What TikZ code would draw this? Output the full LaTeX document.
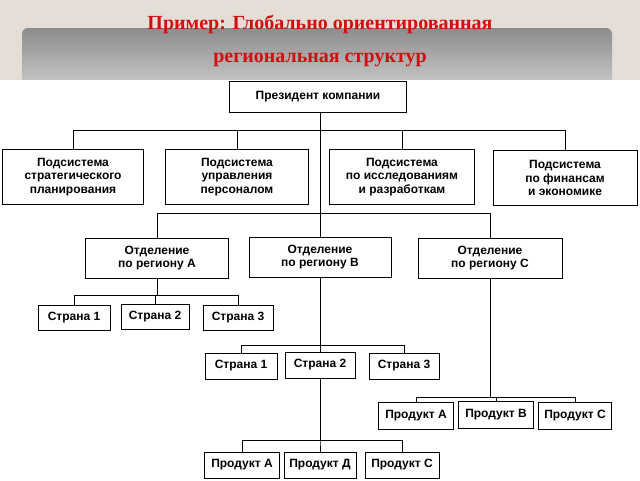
\documentclass[tikz,border=0pt]{standalone}
\usepackage{fontspec}
\setmainfont{Liberation Serif}
\setsansfont{Liberation Sans}
\usetikzlibrary{positioning}
\definecolor{titlered}{RGB}{208,16,16}
\definecolor{bgbeige}{RGB}{228,222,214}
\tikzset{
  orgbox/.style={draw, thick, fill=white, align=center, font=\sffamily\bfseries\fontsize{12}{13.5}\selectfont, inner sep=1pt},
  link/.style={draw, semithick},
}
\begin{document}
\begin{tikzpicture}[x=1pt,y=-1pt]
  \useasboundingbox (0,0) rectangle (640,480);
  % background and banner
  \fill[bgbeige] (0,0) rectangle (640,480);
  \shade[top color=gray!90, bottom color=gray!35, rounded corners=6pt] (22,28) rectangle (612,95);
  \fill[white] (0,80) rectangle (640,480);
  \node[font=\bfseries\fontsize{20}{33}\selectfont, text=titlered, align=center] (title) at (320,41)
    {Пример: Глобально ориентированная\\региональная структур};
  % top level
  \node[orgbox, minimum width=177, minimum height=31] (pres) at (318,97) {Президент компании};
  \node[orgbox, minimum width=141, minimum height=55] (s1) at (73,177) {Подсистема\\стратегического\\планирования};
  \node[orgbox, minimum width=143, minimum height=55] (s2) at (237,177) {Подсистема\\управления\\персоналом};
  \node[orgbox, minimum width=145, minimum height=55] (s3) at (402,177) {Подсистема\\по исследованиям\\и разработкам};
  \node[orgbox, minimum width=144, minimum height=55] (s4) at (565,178) {Подсистема\\по финансам\\и экономике};
  % regions
  \node[orgbox, minimum width=143, minimum height=40] (ra) at (157,258) {Отделение\\по региону А};
  \node[orgbox, minimum width=142, minimum height=40] (rb) at (320,257) {Отделение\\по региону В};
  \node[orgbox, minimum width=144, minimum height=40] (rc) at (490,258) {Отделение\\по региону С};
  % countries
  \node[orgbox, minimum width=72, minimum height=25] (a1) at (74,318) {Страна 1};
  \node[orgbox, minimum width=68, minimum height=25] (a2) at (155,317) {Страна 2};
  \node[orgbox, minimum width=70, minimum height=25] (a3) at (238,318) {Страна 3};
  \node[orgbox, minimum width=72, minimum height=26] (b1) at (241,366) {Страна 1};
  \node[orgbox, minimum width=70, minimum height=26] (b2) at (320,365) {Страна 2};
  \node[orgbox, minimum width=70, minimum height=26] (b3) at (404,366) {Страна 3};
  % products
  \node[orgbox, minimum width=75, minimum height=27] (c1) at (416,416) {Продукт А};
  \node[orgbox, minimum width=75, minimum height=27] (c2) at (496,415) {Продукт В};
  \node[orgbox, minimum width=73, minimum height=27] (c3) at (575,416) {Продукт С};
  \node[orgbox, minimum width=75, minimum height=26] (d1) at (242,465) {Продукт А};
  \node[orgbox, minimum width=72, minimum height=26] (d2) at (320,465) {Продукт Д};
  \node[orgbox, minimum width=74, minimum height=26] (d3) at (402,465) {Продукт С};
  % connectors
  \coordinate (j1) at (320,130);
  \coordinate (j2) at (320,213);
  \draw[link] (pres.south -| j1) -- (j2);
  \foreach \s in {s1,s2,s3,s4} \draw[link] (j1) -| (\s.north);
  \foreach \r in {ra,rb,rc} \draw[link] (j2) -| (\r.north);
  \draw[link] (rb.south) -- (b2.north);
  \foreach \c in {a1,a2,a3} \draw[link] (ra.south) -- ++(0,17) -| (\c.north);
  \foreach \c in {b1,b3} \draw[link] (rb.south) ++(0,68) -| (\c.north);
  \draw[link] (b1.north |- 0,345) -- (b3.north |- 0,345);
  \foreach \c in {c1,c2,c3} \draw[link] (rc.south) -- (rc.south |- 0,397) -| (\c.north);
  \foreach \c in {d1,d2,d3} \draw[link] (b2.south) -- (b2.south |- 0,440) -| (\c.north);
\end{tikzpicture}
\end{document}
